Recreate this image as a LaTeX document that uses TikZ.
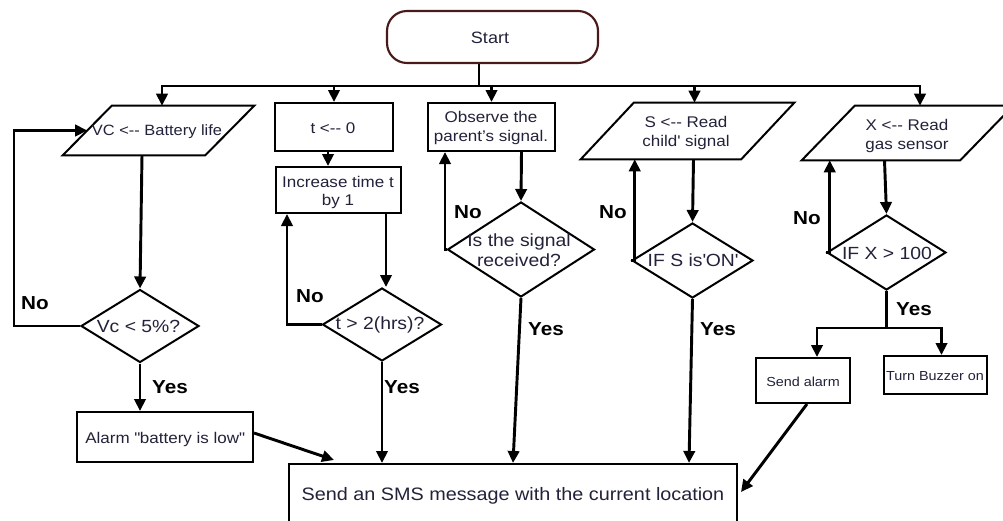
\documentclass[tikz,border=0pt]{standalone}
\usepackage{fontspec}
\setmainfont{Liberation Sans}[FakeStretch=1.1]
\usetikzlibrary{shapes.geometric,arrows.meta,calc}
\definecolor{tcol}{HTML}{22223A}
\definecolor{startcol}{HTML}{4A1A1A}
\newcommand{\dd}{-\kern0pt-}
\begin{document}
\begin{tikzpicture}[x=0.75pt,y=-0.75pt,
  line/.style={line width=2.2pt, draw=black},
  arr/.style={line, -{Triangle[length=9pt,width=8.5pt]}},
  box/.style={draw=black, line width=1.5pt, inner sep=0pt, fill=white},
  paraarea/.style={inner sep=0pt},
  outline/.style={draw=black, line width=1.5pt, line join=miter},
  dia/.style={box, shape=diamond},
  txt/.style={text=tcol, inner sep=0pt, align=center},
  lbl/.style={text=black, inner sep=0pt, font=\fontsize{14.1}{16}\selectfont\bfseries}
]
\useasboundingbox (0,0) rectangle (1003,521);
\fill[white] (0,0) rectangle (1003,521);

% shapes
\node[box, draw=startcol, line width=1.6pt, rounded corners=15pt, minimum width=158.25pt, minimum height=39pt] (start) at (492.5,37) {};
\node[paraarea, minimum width=143.25pt, minimum height=36.75pt] (vc) at (158.5,130.5) {};
\draw[outline] (vc.south west) -- ($(vc.south east)+(-49,0)$) -- (vc.north east) -- ($(vc.north west)+(49,0)$) -- cycle;
\node[box, minimum width=88.5pt, minimum height=36pt] (tbox) at (334,127) {};
\node[box, minimum width=93.75pt, minimum height=34.5pt] (inc) at (338.5,190) {};
\node[box, minimum width=95.25pt, minimum height=36pt] (obs) at (491.5,127) {};
\node[paraarea, minimum width=159.75pt, minimum height=42pt] (sin) at (687.5,131) {};
\draw[outline] (sin.south west) -- ($(sin.south east)+(-53,0)$) -- (sin.north east) -- ($(sin.north west)+(53,0)$) -- cycle;
\node[paraarea, minimum width=158.25pt, minimum height=40.5pt] (xin) at (907.5,133) {};
\draw[outline] (xin.south west) -- ($(xin.south east)+(-53,0)$) -- (xin.north east) -- ($(xin.north west)+(53,0)$) -- cycle;
\node[dia, minimum width=88.5pt, minimum height=54.75pt] (d1) at (140,326) {};
\node[dia, minimum width=89.25pt, minimum height=54.75pt] (d2) at (382,324.5) {};
\node[dia, minimum width=110.25pt, minimum height=71.25pt] (d3) at (521,249.5) {};
\node[dia, minimum width=90.75pt, minimum height=56.25pt] (d4) at (692.5,260.5) {};
\node[dia, minimum width=89.25pt, minimum height=56.25pt] (d5) at (886.5,252.5) {};
\node[box, minimum width=132pt, minimum height=37.5pt] (alarm) at (165,437) {};
\node[box, minimum width=70.5pt, minimum height=33.75pt] (sendal) at (803,380.5) {};
\node[box, minimum width=77.25pt, minimum height=28.5pt] (buzz) at (935.5,375) {};
\node[box, minimum width=336pt, minimum height=57pt] (sms) at (513,502) {};

% texts
\node[txt, font=\fontsize{12.3}{14}\selectfont] (startt) at (490,38) {Start};
\node[txt, font=\fontsize{11.2}{13.5}\selectfont] (vct) at (157,132) {VC <\dd{} Battery life};
\node[txt, font=\fontsize{11.6}{13.5}\selectfont] (tboxt) at (333,128) {t <\dd{} 0};
\node[txt, font=\fontsize{11.6}{13.5}\selectfont] (inct) at (338,192) {Increase time t\\by 1};
\node[txt, font=\fontsize{11.6}{13.5}\selectfont] (obst) at (491,128) {Observe the\\parent’s signal.};
\node[txt, font=\fontsize{11.6}{13.5}\selectfont] (sint) at (686,133) {S <\dd{} Read\\child\textquotesingle{} signal};
\node[txt, font=\fontsize{11.6}{14.2}\selectfont] (xint) at (907,136) {X <\dd{} Read\\gas sensor};
\node[txt, font=\fontsize{13.2}{15}\selectfont] (d1t) at (138.5,326) {Vc < 5\%?};
\node[txt, font=\fontsize{13.2}{15}\selectfont] (d2t) at (380,325) {t > 2(hrs)?};
\node[txt, font=\fontsize{13.2}{15}\selectfont] (d3t) at (519,250) {Is the signal\\received?};
\node[txt, font=\fontsize{13.2}{15}\selectfont] (d4t) at (693,260) {IF S is\textquotesingle ON\textquotesingle};
\node[txt, font=\fontsize{13.2}{15}\selectfont] (d5t) at (887,253) {IF X > 100};
\node[txt, font=\fontsize{11.6}{13.5}\selectfont] (alarmt) at (165,439) {Alarm \textquotedbl battery is low\textquotedbl};
\node[txt, font=\fontsize{9.8}{12}\selectfont] (sendalt) at (803,382) {Send alarm};
\node[txt, font=\fontsize{9.8}{12}\selectfont] (buzzt) at (935,376) {Turn Buzzer on};
\node[txt, font=\fontsize{13.5}{16}\selectfont] (smst) at (513,496) {Send an SMS message with the current location};

% labels
\node[lbl] (no1) at (35,303) {No};
\node[lbl] (yes1) at (170,387) {Yes};
\node[lbl] (no2) at (310,296) {No};
\node[lbl] (yes2) at (402,387) {Yes};
\node[lbl] (no3) at (468,212) {No};
\node[lbl] (yes3) at (546,329) {Yes};
\node[lbl] (no4) at (613,212) {No};
\node[lbl] (yes4) at (718,329) {Yes};
\node[lbl] (no5) at (807,218) {No};
\node[lbl] (yes5) at (914,309) {Yes};

% start bus
\coordinate (bus) at (479,86);
\draw[line] (start.south -| bus) -- (bus);
\draw[arr] (bus) -| ($(vc.north)+(3.5,0)$);
\draw[arr] (bus) -| (tbox.north);
\draw[arr] (bus) -| (obs.north);
\draw[arr] (bus) -| ($(sin.north)+(7,0)$);
\draw[arr] (bus) -| ($(xin.north)+(12.5,0)$);

% battery column
\draw[arr] ($(vc.south)+(-16.5,0)$) -- (d1.north);
\coordinate (c1) at (14,326);
\draw[arr] (d1.west) -- (c1) |- ($(vc.west)+(24.5,0)$);
\draw[arr] (d1.south) -- (d1.south |- alarm.north);
\draw[arr] ($(alarm.east)+(0,-4)$) -- ($(sms.north west)+(46,-3)$);

% time column
\coordinate (t1) at ($(tbox.south)+(-6,0)$);
\draw[arr] (t1) -- (t1 |- inc.north);
\coordinate (t2) at ($(inc.south east)+(-16,0)$);
\draw[arr] (t2) -- (t2 |- d2.north);
\draw[arr] (d2.west) -| ($(inc.south west)+(12,0)$);
\draw[arr] (d2.south) -- (d2.south |- sms.north);

% parent column
\draw[arr] ($(obs.south)+(30,0)$) -- (d3.north);
\draw[arr] (d3.west) -| ($(obs.south west)+(18,0)$);
\draw[arr] (d3.south) -- (sms.north);

% child column
\draw[arr] ($(sin.south)+(6,0)$) -- (d4.north);
\draw[arr] (d4.west) -| ($(sin.south west)+(54,0)$);
\draw[arr] (d4.south) -- ($(sms.north east)+(-49,0)$);

% gas column
\draw[arr] ($(xin.south)+(-23,0)$) -- (d5.north);
\draw[arr] (d5.west) -| ($(xin.south west)+(28,0)$);
\coordinate (split) at (886.5,328);
\draw[line] (d5.south) -- (split);
\draw[arr] (split) -| ($(sendal.north)+(14,0)$);
\draw[arr] (split) -| ($(buzz.north)+(6,0)$);
\draw[arr] ($(sendal.south)+(4,0)$) -- ($(sms.north east)+(3,29)$);
\end{tikzpicture}
\end{document}
